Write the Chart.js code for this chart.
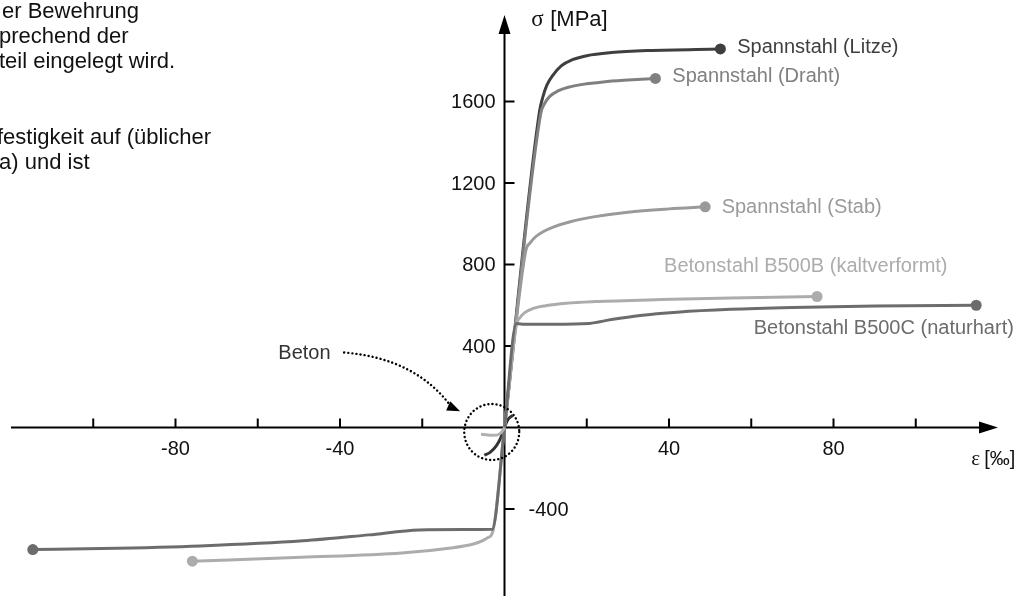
<!DOCTYPE html>
<html>
<head>
<meta charset="utf-8">
<script src="https://cdn.jsdelivr.net/npm/chart.js@4.4.1/dist/chart.umd.min.js"></script>
<style>
  html, body { margin: 0; padding: 0; background: #fff; overflow: hidden; }
</style>
</head>
<body>
<canvas id="chart" width="1027" height="596"></canvas>
<script>
// tick values
const strainTicks = [-100, -80, -60, -40, -20, 20, 40, 60, 80, 100];
const strainLabels = [-80, -40, 40, 80];
const stressTicks = [-400, 400, 800, 1200, 1600];
const stressLabels = [400, 800, 1200, 1600, -400];

// [strain ‰, stress MPa]
const litze = [[0, 0], [8.5, 1550], [9.3, 1620], [10.3, 1680], [11.8, 1730], [13.8, 1775], [16.5, 1805], [20, 1825], [26, 1840], [35, 1850], [52.5, 1858]];
const draht = [[0, 0], [8.8, 1540], [9.6, 1585], [11, 1625], [13, 1652], [15.5, 1670], [19, 1684], [24, 1696], [30, 1705], [36.7, 1713]];
const stab = [[0, 0], [5.2, 870], [6.2, 905], [7.5, 935], [9.5, 962], [12, 985], [16, 1010], [22, 1035], [30, 1057], [40, 1073], [48.8, 1083]];
const b500bZug = [[0, 0], [2.9, 505], [3.8, 540], [5, 565], [7, 585], [10, 598], [15, 610], [22, 618], [38, 628], [55, 636], [76, 643]];
const b500cZug = [[0, 0], [2.9, 510], [5, 507], [12, 507], [20.6, 511], [26, 530], [33, 550], [42, 566], [55, 580], [70, 589], [90, 596], [114.7, 600]];
const b500bDruck = [[-75.9, -656], [-49.4, -637], [-25, -616], [-13, -591], [-8, -574], [-5.7, -559], [-4, -540], [-2.9, -515], [0, 0]];
const b500cDruck = [[-114.7, -599], [-98, -594], [-74, -581], [-49, -556], [-33, -527], [-20.7, -503], [-10, -501], [-3, -500], [0, 0]];
const betonHell = [[-5.7, -33], [-4, -37], [-2.8, -38], [-1.3, -33], [-0.4, -14], [0, 0]];
const betonDunkel = [[-4.9, -136], [-3.5, -122], [-2, -90], [-1, -55], [0, 0], [0.8, 38], [2, 60]];

const colors = {
  litze: '#3f3f3f',
  draht: '#808080',
  stab: '#9a9a9a',
  b500b: '#acacac',
  b500c: '#6c6c6c'
};

const toXY = arr => arr.map(([x, y]) => ({ x, y }));

function curve(data, color, dotAt) {
  return {
    data: toXY(data),
    showLine: true,
    borderColor: color,
    backgroundColor: color,
    borderWidth: 3,
    cubicInterpolationMode: 'monotone',
    pointRadius: c => (c.dataIndex === dotAt ? 5.5 : 0),
    pointBorderWidth: 0,
    pointHoverRadius: 0
  };
}

const FONT = '"Liberation Sans", Arial, sans-serif';

const axesPlugin = {
  id: 'axes',
  beforeDatasetsDraw(chart) {
    const { ctx, chartArea: a } = chart;
    const x = chart.scales.x, y = chart.scales.y;
    const x0 = x.getPixelForValue(0), y0 = y.getPixelForValue(0);
    ctx.save();
    ctx.strokeStyle = '#000';
    ctx.fillStyle = '#000';
    ctx.lineWidth = 2;
    ctx.beginPath();
    ctx.moveTo(a.left, y0);
    ctx.lineTo(a.right - 12, y0);
    ctx.moveTo(x0, chart.height);
    ctx.lineTo(x0, a.top + 8);
    strainTicks.forEach(v => {
      const px = x.getPixelForValue(v);
      ctx.moveTo(px, y0);
      ctx.lineTo(px, y0 - 9);
    });
    stressTicks.forEach(v => {
      const py = y.getPixelForValue(v);
      ctx.moveTo(x0, py);
      ctx.lineTo(x0 + 10, py);
    });
    ctx.stroke();

    // arrow heads
    ctx.beginPath();
    ctx.moveTo(a.right, y0);
    ctx.lineTo(a.right - 19, y0 - 6);
    ctx.lineTo(a.right - 19, y0 + 6);
    ctx.closePath();
    ctx.moveTo(x0, a.top - 5);
    ctx.lineTo(x0 - 6, a.top + 14);
    ctx.lineTo(x0 + 6, a.top + 14);
    ctx.closePath();
    ctx.fill();

    // tick labels
    ctx.font = '20px ' + FONT;
    ctx.fillStyle = '#111';
    ctx.textBaseline = 'middle';
    ctx.textAlign = 'center';
    strainLabels.forEach(v => {
      ctx.fillText(String(v), x.getPixelForValue(v), y0 + 22);
    });
    stressLabels.forEach(v => {
      const py = y.getPixelForValue(v);
      if (v > 0) {
        ctx.textAlign = 'right';
        ctx.fillText(String(v), x0 - 9, py + 1);
      } else {
        ctx.textAlign = 'left';
        ctx.fillText(String(v), x0 + 24, py + 1);
      }
    });
    ctx.restore();
  }
};

// label texts and where they sit (data coords)
const seriesLabels = [
  ['Spannstahl (Litze)', 56.6, 1866, colors.litze],
  ['Spannstahl (Draht)', 40.8, 1723, colors.draht],
  ['Spannstahl (Stab)', 52.8, 1080, colors.stab],
  ['Betonstahl B500B (kaltverformt)', 38.8, 788, colors.b500b],
  ['Betonstahl B500C (naturhart)', 60.6, 485, colors.b500c]
];
const noteLines = [
  ['er Bewehrung', 2, 12],
  ['prechend der', -1, 37],
  ['teil eingelegt wird.', -1, 62],
  ['festigkeit auf (üblicher', -3, 138],
  ['a) und ist', -1, 163]
];

const notesPlugin = {
  id: 'notes',
  afterDatasetsDraw(chart) {
    const { ctx } = chart;
    const x = chart.scales.x, y = chart.scales.y;
    const px = v => x.getPixelForValue(v), py = v => y.getPixelForValue(v);
    ctx.save();
    ctx.textBaseline = 'middle';
    ctx.textAlign = 'left';
    ctx.font = '20px ' + FONT;
    seriesLabels.forEach(([t, e, s, c]) => {
      ctx.fillStyle = c;
      ctx.fillText(t, px(e), py(s));
    });

    // axis titles
    ctx.fillStyle = '#111';
    ctx.font = '23px "Liberation Serif", serif';
    ctx.fillText('σ', px(6.5), py(2002));
    ctx.font = '21px "Liberation Serif", serif';
    ctx.fillText('ε', px(113.5), py(-158));
    ctx.font = '22px ' + FONT;
    ctx.fillText('[MPa]', px(6.5) + 19, py(2002));
    ctx.font = '20px ' + FONT;
    ctx.fillText('[‰]', px(113.5) + 13, py(-158));

    // Beton label with dotted arrow
    ctx.font = '20px ' + FONT;
    ctx.fillStyle = '#333';
    ctx.fillText('Beton', px(-55), py(363));
    ctx.strokeStyle = '#000';
    ctx.lineWidth = 2.4;
    ctx.lineCap = 'round';
    ctx.setLineDash([0.1, 4]);
    ctx.beginPath();
    ctx.moveTo(px(-39), py(368));
    ctx.quadraticCurveTo(px(-21.5), py(340), px(-12.8), py(98));
    ctx.stroke();
    ctx.beginPath();
    ctx.ellipse(px(-3.1), py(-22), 27.5, 28, 0, 0, Math.PI * 2);
    ctx.stroke();
    ctx.setLineDash([]);
    // arrow head
    const tx = px(-10.8), ty = py(80);
    const ang = Math.atan2(ty - py(98), tx - px(-12.8));
    ctx.fillStyle = '#000';
    ctx.beginPath();
    ctx.moveTo(tx, ty);
    ctx.lineTo(tx - 13 * Math.cos(ang) + 5 * Math.sin(ang), ty - 13 * Math.sin(ang) - 5 * Math.cos(ang));
    ctx.lineTo(tx - 13 * Math.cos(ang) - 5 * Math.sin(ang), ty - 13 * Math.sin(ang) + 5 * Math.cos(ang));
    ctx.closePath();
    ctx.fill();

    // cut-off text of the page
    ctx.fillStyle = '#111';
    ctx.font = '22px ' + FONT;
    noteLines.forEach(([t, lx, ly]) => ctx.fillText(t, lx, ly));
    ctx.restore();
  }
};

new Chart(document.getElementById('chart'), {
  type: 'scatter',
  data: {
    datasets: [
      curve(betonHell, '#b0b0b0', -1),
      curve(b500cDruck, colors.b500c, 0),
      curve(b500bDruck, colors.b500b, 0),
      curve(b500cZug, colors.b500c, b500cZug.length - 1),
      curve(b500bZug, colors.b500b, b500bZug.length - 1),
      curve(stab, colors.stab, stab.length - 1),
      curve(draht, colors.draht, draht.length - 1),
      curve(litze, colors.litze, litze.length - 1),
      curve(betonDunkel, '#333333', -1)
    ]
  },
  options: {
    responsive: false,
    animation: false,
    devicePixelRatio: 1,
    layout: { padding: { left: 11, right: 29, top: 20, bottom: 2 } },
    scales: {
      x: { type: 'linear', min: -120, max: 120, display: false },
      y: { type: 'linear', min: -800, max: 2000, display: false }
    },
    plugins: {
      legend: { display: false },
      tooltip: { enabled: false }
    }
  },
  plugins: [axesPlugin, notesPlugin]
});
</script>
</body>
</html>
